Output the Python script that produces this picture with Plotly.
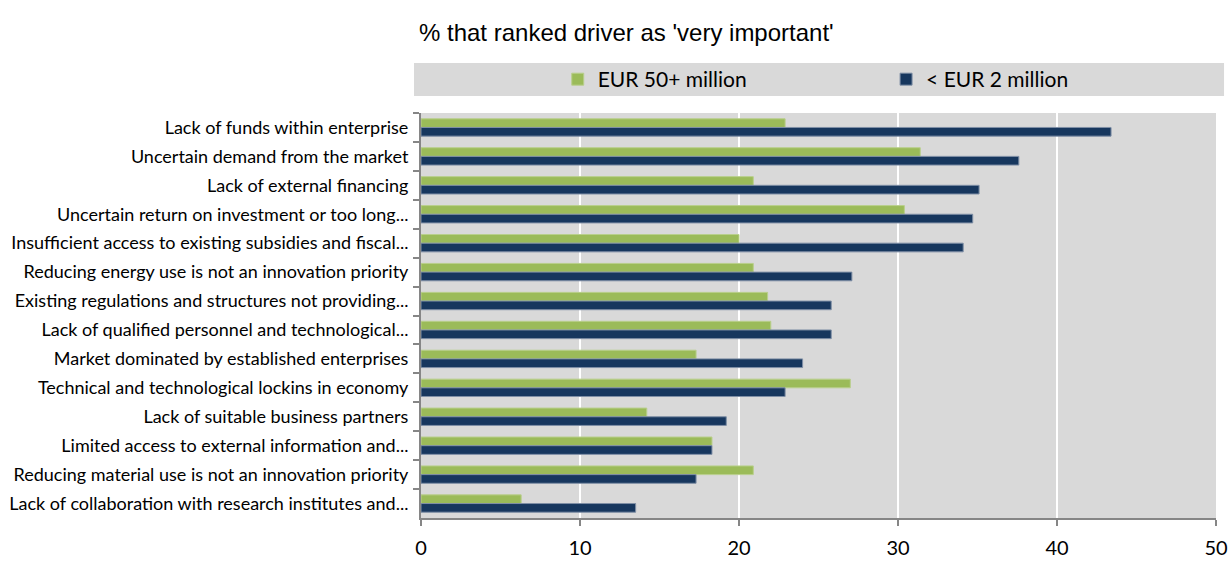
import plotly.graph_objects as go

# Barriers to eco-innovation, share of enterprises ranking each as 'very important'
categories = [
    "Lack of funds within enterprise",
    "Uncertain demand from the market",
    "Lack of external financing",
    "Uncertain return on investment or too long...",
    "Insufficient access to existing subsidies and fiscal...",
    "Reducing energy use is not an innovation priority",
    "Existing regulations and structures not providing...",
    "Lack of qualified personnel and technological...",
    "Market dominated by established enterprises",
    "Technical and technological lockins in economy",
    "Lack of suitable business partners",
    "Limited access to external information and...",
    "Reducing material use is not an innovation priority",
    "Lack of collaboration with research institutes and...",
]
large_firms = [22.9, 31.4, 20.9, 30.4, 20.0, 20.9, 21.8, 22.0, 17.3, 27.0, 14.2, 18.3, 20.9, 6.3]
small_firms = [43.4, 37.6, 35.1, 34.7, 34.1, 27.1, 25.8, 25.8, 24.0, 22.9, 19.2, 18.3, 17.3, 13.5]
x_ticks = [0, 10, 20, 30, 40, 50]

LABEL_FONT = "Lato, Carlito, Calibri, sans-serif"
GREEN = "#9BBB59"
NAVY = "#17375E"

fig = go.Figure()
fig.add_trace(go.Bar(
    y=categories, x=large_firms, orientation="h", name="EUR 50+ million",
    marker=dict(color=GREEN, line=dict(color="#B9CF8C", width=1)),
    legend="legend", showlegend=True,
))
fig.add_trace(go.Bar(
    y=categories, x=small_firms, orientation="h", name="< EUR 2 million",
    marker=dict(color=NAVY, line=dict(color="#7F8FA6", width=1)),
    legend="legend2", showlegend=True,
))

# Grey band behind the legend entries
fig.add_shape(type="rect", xref="paper", yref="paper",
              x0=-0.0088, x1=1.0101, y0=1.042, y1=1.1235,
              fillcolor="#D9D9D9", line=dict(width=0), layer="below")

legend_style = dict(
    orientation="h", xanchor="left", y=1.0827, yanchor="middle",
    bgcolor="rgba(0,0,0,0)", font=dict(size=21, family=LABEL_FONT),
)

fig.update_layout(
    width=1231, height=561,
    margin=dict(l=421, r=15, t=113, b=43),
    paper_bgcolor="white",
    plot_bgcolor="#D9D9D9",
    barmode="group",
    bargap=0.4,
    bargroupgap=0,
    showlegend=True,
    font=dict(family=LABEL_FONT, color="black"),
    title=dict(
        text="% that ranked driver as 'very important'",
        x=419 / 1231, xanchor="left", xref="container",
        y=1 - 33 / 561, yanchor="middle",
        font=dict(family="Liberation Sans, Arial, sans-serif", size=24, color="black"),
    ),
    legend=dict(x=0.172, **legend_style),
    legend2=dict(x=0.585, **legend_style),
    xaxis=dict(
        range=[0, 50], tickvals=x_ticks, ticktext=[str(v) for v in x_ticks],
        showgrid=True, gridcolor="white", gridwidth=2,
        showline=True, linecolor="#868686", linewidth=2,
        ticks="outside", ticklen=6, tickcolor="#868686", tickwidth=2,
        tickfont=dict(size=20), ticklabelstandoff=5,
        zeroline=False, fixedrange=True, automargin=False,
    ),
    yaxis=dict(
        autorange="reversed",
        showline=True, linecolor="#868686", linewidth=2,
        ticks="outside", ticklen=6, tickcolor="#868686", tickwidth=2,
        tickson="boundaries", ticklabelstandoff=7,
        tickfont=dict(size=18), showgrid=False, fixedrange=True,
        automargin=False,
    ),
)

fig.write_html("out.html")
